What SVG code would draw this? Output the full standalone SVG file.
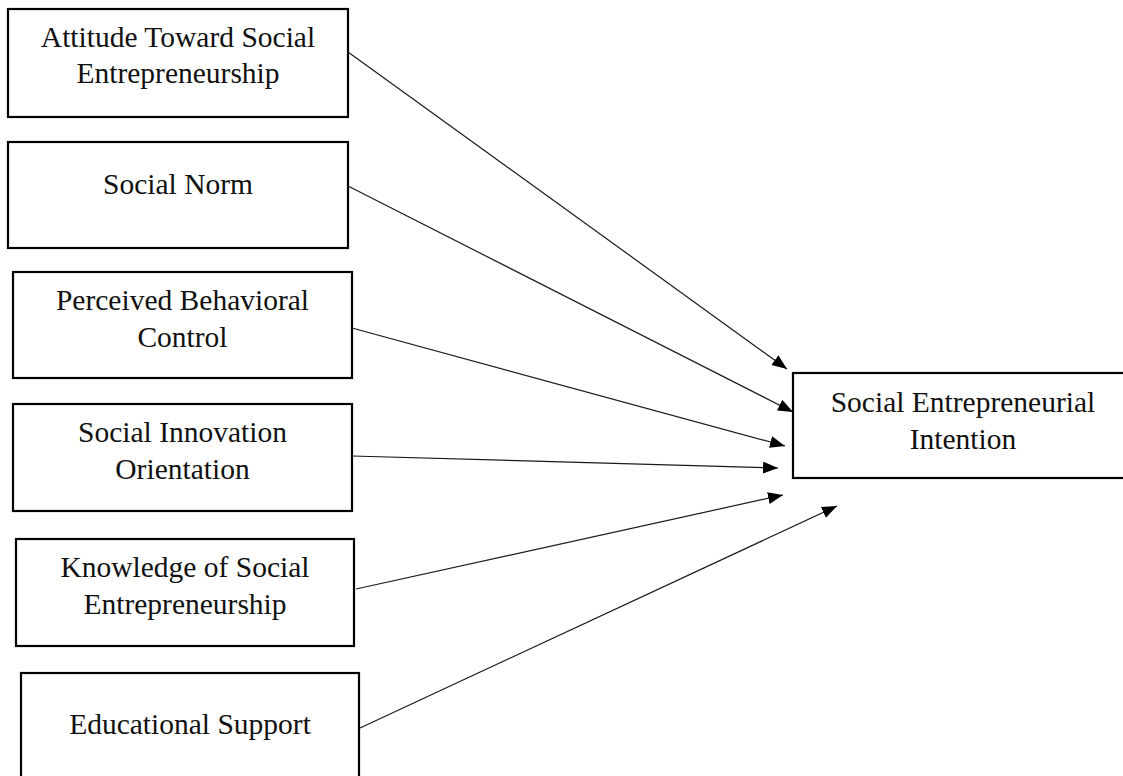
<svg xmlns="http://www.w3.org/2000/svg" width="1123" height="776" viewBox="0 0 1123 776">
<defs>
<style>
.box{fill:#fff;stroke:#000;stroke-width:2.2}
.t{font-family:"Liberation Serif","Times New Roman",serif;font-size:29.5px;fill:#111;text-anchor:middle}
.c{stroke:#1a1a1a;stroke-width:1.2;fill:none;marker-end:url(#ah)}
</style>
<marker id="ah" markerUnits="userSpaceOnUse" markerWidth="16" markerHeight="13" refX="15" refY="6" orient="auto">
<path d="M0,0 L15,6 L0,12 z" fill="#000"/>
</marker>
</defs>
<rect width="1123" height="776" fill="#fff"/>
<g id="n1"><rect class="box" x="8" y="9" width="340" height="108"/><text class="t" x="178" y="47">Attitude Toward Social</text><text class="t" x="178" y="83">Entrepreneurship</text></g>
<g id="n2"><rect class="box" x="8" y="142" width="340" height="106"/><text class="t" x="178" y="194">Social Norm</text></g>
<g id="n3"><rect class="box" x="13" y="272" width="339" height="106"/><text class="t" x="182.5" y="310">Perceived Behavioral</text><text class="t" x="182.5" y="347">Control</text></g>
<g id="n4"><rect class="box" x="13" y="404" width="339" height="107"/><text class="t" x="182.5" y="442">Social Innovation</text><text class="t" x="182.5" y="479">Orientation</text></g>
<g id="n5"><rect class="box" x="16" y="539" width="338" height="107"/><text class="t" x="185" y="577">Knowledge of Social</text><text class="t" x="185" y="614">Entrepreneurship</text></g>
<g id="n6"><rect class="box" x="21" y="673" width="338" height="110"/><text class="t" x="190" y="734">Educational Support</text></g>
<g id="target"><rect class="box" x="793" y="373" width="335" height="105"/><text class="t" x="963" y="412">Social Entrepreneurial</text><text class="t" x="963" y="449">Intention</text></g>
<g id="connectors">
<line class="c" x1="348" y1="52" x2="787" y2="369"/>
<line class="c" x1="348" y1="186" x2="793" y2="412"/>
<line class="c" x1="352" y1="328" x2="785" y2="446"/>
<line class="c" x1="352" y1="456" x2="778" y2="468"/>
<line class="c" x1="356" y1="589" x2="783" y2="495"/>
<line class="c" x1="360" y1="728" x2="837" y2="506"/>
</g>
</svg>
